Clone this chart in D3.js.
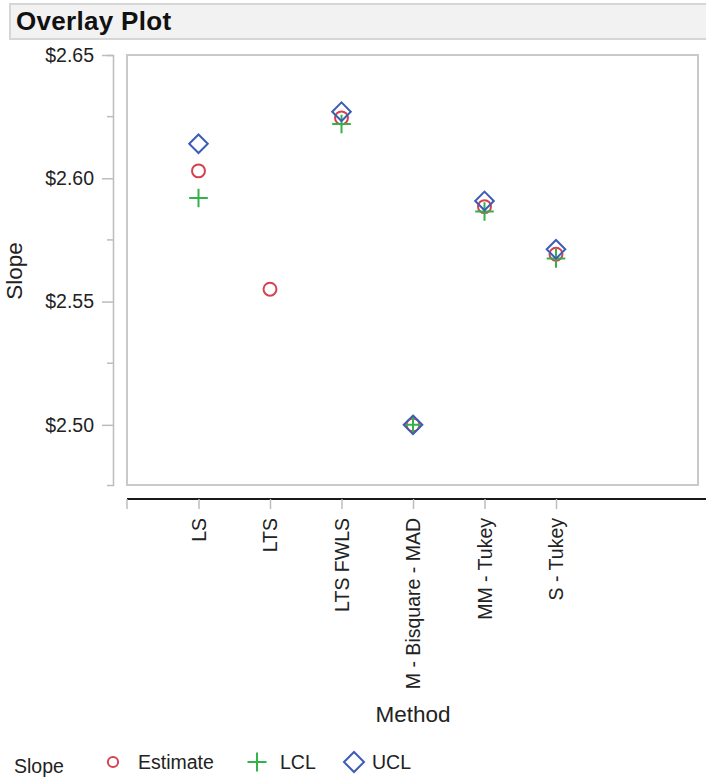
<!DOCTYPE html>
<html>
<head>
<meta charset="utf-8">
<script src="https://cdn.jsdelivr.net/npm/d3@7"></script>
<style>
  html, body { margin: 0; padding: 0; background: #fff; }
  svg { display: block; font-family: "Liberation Sans", Arial, Helvetica, sans-serif; }
</style>
</head>
<body>
<svg id="chart" width="706" height="778"></svg>
<script>
// Regression methods and their slope estimates with confidence limits
const methods = ["LS", "LTS", "LTS FWLS", "M - Bisquare - MAD", "MM - Tukey", "S - Tukey"];
const estimate = [2.603, 2.555, 2.6245, 2.500, 2.5885, 2.5692];
const lcl = [2.592, null, 2.622, 2.500, 2.5865, 2.5675];
const ucl = [2.614, null, 2.627, 2.500, 2.5908, 2.5712];
const yTicks = [2.50, 2.55, 2.60, 2.65];
const yMinorTicks = [2.525, 2.575, 2.625];
const seriesNames = ["Estimate", "LCL", "UCL"];
const seriesColors = ["#d6414f", "#33b24a", "#3b5db4"];

const svg = d3.select("#chart");

// Title bar
svg.append("rect")
  .attr("x", 10).attr("y", 4).attr("width", 704).attr("height", 35)
  .attr("fill", "#f2f2f2").attr("stroke", "#d6d6d6").attr("stroke-width", 2);
svg.append("text")
  .attr("x", 16).attr("y", 29.5)
  .attr("font-size", 26).attr("font-weight", "bold").attr("fill", "#111")
  .attr("letter-spacing", 0.3)
  .text("Overlay Plot");

// Scales
const plot = { left: 127, right: 698, top: 55, bottom: 485 };
const x = d3.scalePoint().domain(methods).range([127, 699]).padding(1.5).align(1 / 3);
const y = d3.scaleLinear().domain([2.4756, 2.65]).range([plot.bottom, plot.top]);

// Plot frame
svg.append("rect")
  .attr("x", plot.left).attr("y", plot.top)
  .attr("width", plot.right - plot.left).attr("height", plot.bottom - plot.top)
  .attr("fill", "none").attr("stroke", "#c9c9c9").attr("stroke-width", 2);

// Y axis with major and minor ticks
const yAxisG = svg.append("g").attr("transform", "translate(113,0)");
yAxisG.call(d3.axisLeft(y).tickValues(yTicks).tickSize(11).tickSizeOuter(6)
    .tickPadding(8).tickFormat(d => "$" + d3.format(".2f")(d)));
yAxisG.select(".domain").attr("stroke", "#bdbdbd").attr("stroke-width", 1.5);
yAxisG.selectAll(".tick line").attr("stroke", "#bdbdbd").attr("stroke-width", 1.5);
yAxisG.selectAll(".tick text").attr("font-size", 19.5).attr("fill", "#222")
  .attr("font-family", "Liberation Sans, Arial, sans-serif");
yAxisG.selectAll(".minor").data(yMinorTicks).enter().append("line")
  .attr("class", "minor")
  .attr("x1", -6).attr("x2", 0)
  .attr("y1", d => y(d)).attr("y2", d => y(d))
  .attr("stroke", "#bdbdbd").attr("stroke-width", 1.5);

svg.append("text")
  .attr("transform", "translate(22,271) rotate(-90)")
  .attr("text-anchor", "middle").attr("font-size", 22.5).attr("fill", "#222")
  .text("Slope");

// X axis
const xAxisG = svg.append("g").attr("transform", "translate(0,499)");
xAxisG.call(d3.axisBottom(x).tickSize(10).tickSizeOuter(0));
xAxisG.select(".domain").remove();
xAxisG.insert("line", ":first-child")
  .attr("x1", 127).attr("x2", 706).attr("y1", 0).attr("y2", 0)
  .attr("stroke", "#1a1a1a").attr("stroke-width", 2);
xAxisG.append("line")
  .attr("x1", 127).attr("x2", 127).attr("y1", 0).attr("y2", 10)
  .attr("stroke", "#bdbdbd").attr("stroke-width", 1.5);
xAxisG.selectAll(".tick line").attr("stroke", "#bdbdbd").attr("stroke-width", 1.5);
xAxisG.selectAll(".tick text")
  .attr("transform", "rotate(-90)")
  .attr("x", -19).attr("y", 0).attr("dy", "0.35em")
  .attr("text-anchor", "end")
  .attr("font-size", 19.5).attr("fill", "#222")
  .attr("font-family", "Liberation Sans, Arial, sans-serif");

svg.append("text")
  .attr("x", 413).attr("y", 722)
  .attr("text-anchor", "middle").attr("font-size", 22.5).attr("fill", "#222")
  .text("Method");

// Marker drawing per series
function drawMarker(g, series, size) {
  const color = seriesColors[seriesNames.indexOf(series)];
  if (series === "Estimate") {
    g.append("circle").attr("r", size * 0.68).attr("fill", "none")
      .attr("stroke", color).attr("stroke-width", 2);
  } else if (series === "LCL") {
    g.append("path").attr("d", `M${-size},0H${size}M0,${-size}V${size}`)
      .attr("fill", "none").attr("stroke", color).attr("stroke-width", 2);
  } else {
    g.append("path").attr("d", `M0,${-size}L${size},0L0,${size}L${-size},0Z`)
      .attr("fill", "none").attr("stroke", color).attr("stroke-width", 2);
  }
}

const seriesValues = { Estimate: estimate, LCL: lcl, UCL: ucl };
// Draw estimate first, then LCL, then UCL on top
seriesNames.forEach(name => {
  const pts = methods.map((m, i) => ({ m, v: seriesValues[name][i] })).filter(d => d.v != null);
  const layer = svg.append("g").attr("class", "series-" + name);
  pts.forEach(d => {
    const g = layer.append("g").attr("transform", `translate(${x(d.m)},${y(d.v)})`);
    drawMarker(g, name, name === "Estimate" ? 9.5 : 9.3);
  });
});

// Legend
svg.append("text").attr("x", 14).attr("y", 773).attr("font-size", 19.5).attr("fill", "#222").text("Slope");
const legendItems = [
  { name: "Estimate", mx: 113, tx: 138, size: 7.5 },
  { name: "LCL", mx: 257, tx: 280, size: 9.5 },
  { name: "UCL", mx: 354, tx: 372, size: 10 }
];
legendItems.forEach(it => {
  const g = svg.append("g").attr("transform", `translate(${it.mx},762)`);
  drawMarker(g, it.name, it.size);
  svg.append("text").attr("x", it.tx).attr("y", 768.5)
    .attr("font-size", 19.5).attr("fill", "#222").text(it.name);
});
</script>
</body>
</html>
